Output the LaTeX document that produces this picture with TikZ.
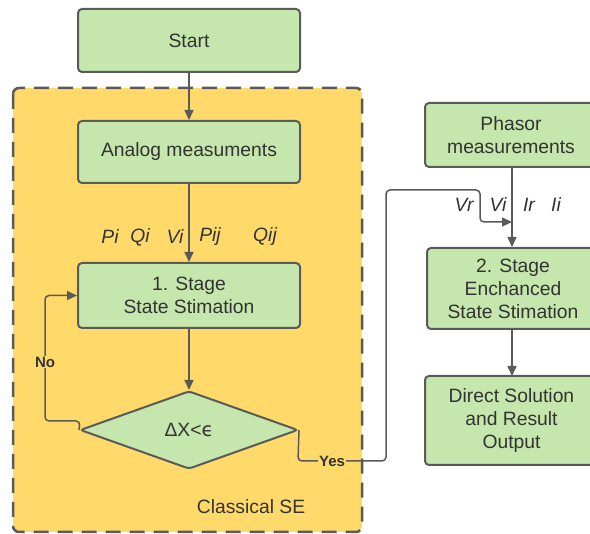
\documentclass[tikz,border=0pt]{standalone}
\usepackage{fontspec}
\setmainfont{Liberation Sans}
\newfontfamily\symfont{DejaVu Sans}
\usetikzlibrary{arrows.meta,shapes.geometric}

\definecolor{boxfill}{HTML}{C5E6AC}
\definecolor{boxline}{HTML}{5A5A5A}
\definecolor{zonefill}{HTML}{FFDA6A}
\definecolor{txt}{HTML}{333333}

\tikzset{
  box/.style={draw=boxline, fill=boxfill, line width=2pt, rounded corners=4pt,
    align=center, text=txt, font=\fontsize{19.3}{23}\selectfont, inner sep=0pt},
  decision/.style={diamond, draw=boxline, fill=boxfill, line width=2pt,
    rounded corners=3pt, inner sep=0pt, text=txt, font=\fontsize{19.3}{23}\selectfont},
  arr/.style={draw=boxline, line width=1.5pt, -{Triangle[length=10pt,width=9pt]}},
  link/.style={draw=boxline, line width=1.5pt, rounded corners=4pt},
  meas/.style={text=txt, font=\fontsize{19.3}{23}\selectfont\itshape, inner sep=0pt},
  tag/.style={text=txt, font=\fontsize{15}{18}\selectfont\bfseries, fill=zonefill, inner sep=1pt},
}

\begin{document}
\begin{tikzpicture}[x=1pt,y=-1pt]
  \useasboundingbox (0,0) rectangle (590,534);
  \fill[white] (0,0) rectangle (590,534);

  % dashed zone of the classical estimator
  \draw[draw=boxline, fill=zonefill, line width=2.5pt, rounded corners=6pt,
        dash pattern=on 15pt off 9pt] (13,88) rectangle (362,532);
  \node[text=txt, font=\fontsize{19.3}{23}\selectfont] (cse) at (251,507) {Classical SE};

  % boxes
  \node[box, minimum width=222pt, minimum height=63pt] (start) at (189,40.5) {Start};
  \node[box, minimum width=222pt, minimum height=62pt] (analog) at (189,152) {Analog measuments};
  \node[box, minimum width=222pt, minimum height=65pt] (st1) at (189,295.5) {1. Stage\\State Stimation};
  \node[decision, minimum width=218pt, minimum height=78pt, aspect=2.8] (dec) at (189,430)
       {ΔX<{\symfont ϵ}};
  \node[box, minimum width=172pt, minimum height=64pt] (ph) at (511,135) {Phasor\\measurements};
  \node[box, minimum width=172pt, minimum height=81pt] (st2) at (513,288.5) {2. Stage\\Enchanced\\State Stimation};
  \node[box, minimum width=173pt, minimum height=89pt] (res) at (511.5,420.5) {Direct Solution\\and Result\\Output};

  % measurement labels
  \node[meas] (pi) at (110,237) {Pi};
  \node[meas] (qi) at (140,237) {Qi};
  \node[meas] (vi) at (175,237) {Vi};
  \node[meas] (pij) at (210,237) {Pij};
  \node[meas] (qij) at (265,237) {Qij};
  \node[meas] (vr2) at (464,205) {Vr};
  \node[meas] (vi2) at (498,205) {Vi};
  \node[meas] (ir2) at (529,205) {Ir};
  \node[meas] (ii2) at (556,205) {Ii};

  % main flow
  \draw[arr] (start.south) -- (analog.north);
  \draw[arr] (analog.south) -- (st1.north);
  \draw[arr] (st1.south) -- (dec.north);
  \coordinate (phs) at (512,167);
  \coordinate (st2n) at (512,247);
  \coordinate (st2s) at (512,329);
  \coordinate (resn) at (512,376);
  \draw[arr] (phs) -- (st2n);
  \draw[arr] (st2s) -- (resn);

  % "No" loop back to stage 1
  \coordinate (nA) at (45,421);
  \coordinate (nB) at (45,295.5);
  \draw[link] (dec.west) -- (80,421) -- (nA) -- (45,362);
  \draw[arr, rounded corners=4pt] (45,362) -- (nB) -- (st1.west);
  \node[tag] (no) at (45,362) {No};

  % "Yes" path to stage 2
  \coordinate (j) at (512,222);
  \draw[arr, rounded corners=4pt] (dec.east) -- (298,461) -- (386,461) -- (386,190)
        -- (480,190) -- (480,222) -- (j);
  \node[tag] (yes) at (332,461) {Yes};
\end{tikzpicture}
\end{document}
